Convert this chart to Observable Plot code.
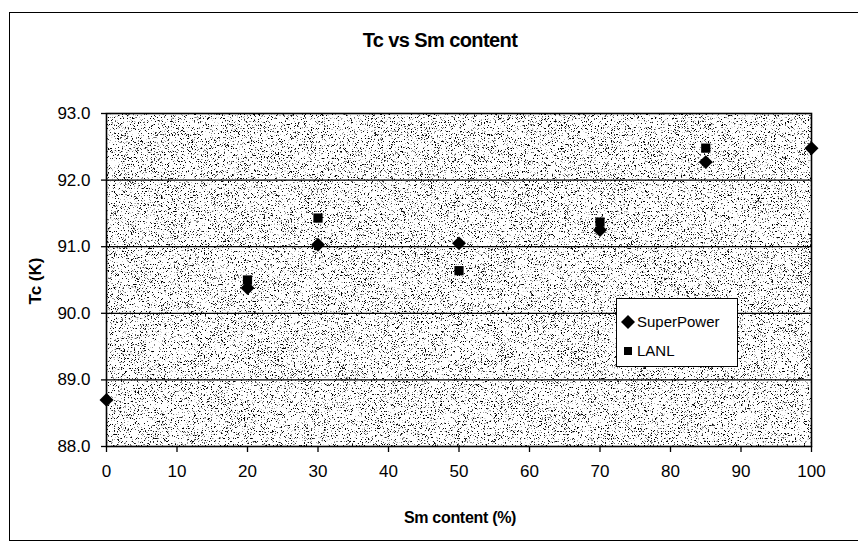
<!DOCTYPE html>
<html>
<head>
<meta charset="utf-8">
<script src="https://cdn.jsdelivr.net/npm/d3@7"></script>
<script src="https://cdn.jsdelivr.net/npm/@observablehq/plot@0.6"></script>
<style>
  html, body { margin: 0; padding: 0; background: #fff; }
  #wrap { position: relative; width: 858px; height: 543px; overflow: hidden; font-family: "Liberation Sans", Arial, sans-serif; color: #000; }
  #border { position: absolute; left: 9px; top: 12px; width: 900px; height: 529px; border: 1.5px solid #000; box-sizing: border-box; }
  #chart { position: absolute; left: 0; top: 0; }
  .title { position: absolute; left: 0; width: 880px; top: 29px; text-align: center; font-weight: bold; font-size: 20px; letter-spacing: -0.6px; }
  .ylab { position: absolute; left: 36px; top: 281px; transform: translate(-50%, -50%) rotate(-90deg); font-weight: bold; font-size: 17px; white-space: nowrap; }
  .xlab { position: absolute; left: 460px; top: 518px; transform: translate(-50%, -50%); font-weight: bold; font-size: 16px; letter-spacing: -0.3px; white-space: nowrap; }
  #legend { position: absolute; left: 616px; top: 298px; width: 122px; height: 69px; background: #fff; border: 1px solid #000; box-sizing: border-box; font-size: 15px; }
  #legend .row { position: absolute; left: 4px; display: flex; align-items: center; }
  #legend svg { margin-right: 2px; }
</style>
</head>
<body>
<div id="wrap">
  <div id="border"></div>
  <div id="chart"></div>
  <div class="title">Tc vs Sm content</div>
  <div class="ylab">Tc (K)</div>
  <div class="xlab">Sm content (%)</div>
  <div id="legend"></div>
</div>
<script>
// ---- data ----
const superPowerSm = [0, 20, 30, 50, 70, 85, 100];
const superPowerTc = [88.7, 90.38, 91.03, 91.05, 91.25, 92.27, 92.48];
const lanlSm = [20, 30, 50, 70, 85];
const lanlTc = [90.5, 91.43, 90.64, 91.37, 92.48];
const xTicks = [0, 10, 20, 30, 40, 50, 60, 70, 80, 90, 100];
const yTicks = [88, 89, 90, 91, 92, 93];
const yGrid = [89, 90, 91, 92];
const seriesNames = ["SuperPower", "LANL"];

const spData = superPowerSm.map((s, i) => ({sm: s, tc: superPowerTc[i]}));
const lanlData = lanlSm.map((s, i) => ({sm: s, tc: lanlTc[i]}));

const plot = Plot.plot({
  width: 858,
  height: 543,
  marginLeft: 106,
  marginRight: 47,
  marginTop: 113,
  marginBottom: 97,
  style: {fontFamily: '"Liberation Sans", Arial, sans-serif', color: "#000", background: "transparent", overflow: "visible"},
  x: {domain: [0, 100]},
  y: {domain: [88, 93]},
  marks: [
    Plot.frame({fill: "#fff"}),
    Plot.frame({fill: "#000"}),
    Plot.ruleY(yGrid, {stroke: "#000", strokeWidth: 1.3}),
    Plot.axisY(yTicks, {tickSize: 5, tickPadding: 11, tickFormat: d3.format(".1f"), fontSize: 17, label: null, strokeWidth: 1.3}),
    Plot.axisX(xTicks, {tickSize: 6, tickPadding: 12, fontSize: 17, label: null, strokeWidth: 1.3}),
    Plot.frame({stroke: "#000", strokeWidth: 1.6}),
    Plot.dot(lanlData, {x: "sm", y: "tc", symbol: "square", fill: "#000", stroke: "none", r: 5.2}),
    Plot.dot(spData, {x: "sm", y: "tc", symbol: "diamond2", fill: "#000", stroke: "none", r: 6.3})
  ]
});
document.getElementById("chart").appendChild(plot);

// stipple texture for the plot area background
const svg = plot.tagName.toLowerCase() === "svg" ? plot : plot.querySelector("svg");
const ns = "http://www.w3.org/2000/svg";
const defs = document.createElementNS(ns, "defs");
defs.innerHTML = `
  <filter id="stip" x="0" y="0" width="1" height="1" filterUnits="objectBoundingBox">
    <feTurbulence type="fractalNoise" baseFrequency="1.7" numOctaves="1" seed="7" result="n"/>
    <feColorMatrix in="n" type="matrix" values="0 0 0 0 0  0 0 0 0 0  0 0 0 0 0  -10 0 0 0 4.15" result="dots"/>
    <feComposite in="dots" in2="SourceAlpha" operator="in"/>
  </filter>`;
svg.insertBefore(defs, svg.firstChild);
const frames = svg.querySelectorAll('[aria-label="frame"]');
if (frames.length > 1) {
  const f = frames[1];
  const r = f.tagName.toLowerCase() === "rect" ? f : f.querySelector("rect");
  if (r) r.setAttribute("filter", "url(#stip)");
}

// legend
const legend = document.getElementById("legend");
const symbols = [
  `<svg width="14" height="14" viewBox="-7 -7 14 14"><path d="M0,-7L7,0L0,7L-7,0Z" fill="#000"/></svg>`,
  `<svg width="14" height="14" viewBox="-7 -7 14 14"><rect x="-4" y="-4" width="8" height="8" fill="#000"/></svg>`
];
seriesNames.forEach((name, i) => {
  const row = document.createElement("div");
  row.className = "row";
  row.style.top = (i === 0 ? 14 : 43) + "px";
  row.innerHTML = symbols[i] + `<span>${name}</span>`;
  legend.appendChild(row);
});
</script>
</body>
</html>
